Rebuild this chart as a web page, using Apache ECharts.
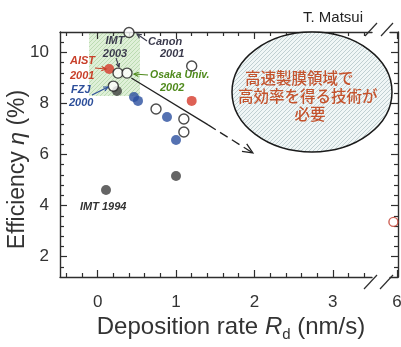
<!DOCTYPE html>
<html><head><meta charset="utf-8">
<script src="https://cdn.jsdelivr.net/npm/echarts@6/dist/echarts.min.js"></script>
<style>html,body{margin:0;padding:0;background:#fff}#c{width:401px;height:347px}</style>
</head><body><div id="c"></div>
<script>
// ---- data ----
const xMajorTicks = [0, 1, 2, 3];
const xMinorTicks = [-0.4, -0.2, 0.2, 0.4, 0.6, 0.8, 1.2, 1.4, 1.6, 1.8, 2.2, 2.4, 2.6, 2.8, 3.2, 3.4];
const xBreakTicks = [6];
const yMajorTicks = [2, 4, 6, 8, 10];
const yMinorTicks = [1.6, 2.4, 2.8, 3.2, 3.6, 4.4, 4.8, 5.2, 5.6, 6.4, 6.8, 7.2, 7.6, 8.4, 8.8, 9.2, 9.6, 10.4];

const openPts = [[0.40, 10.78], [0.26, 9.19], [0.375, 9.19], [0.20, 8.68], [1.20, 9.47], [0.745, 7.78], [1.10, 7.39], [1.10, 6.88]];
const redPts = [[0.147, 9.35], [1.20, 8.10]];
const bluePts = [[0.464, 8.25], [0.515, 8.10], [0.885, 7.47], [1.0, 6.57]];
const grayPts = [[0.247, 8.49], [1.0, 5.16], [0.107, 4.61]];
const redOpenPts = [[5.94, 3.36]];
const trendSolid = [[0.43, 9.0], [1.41, 7.16]];
const trendDashed = [[1.41, 7.16], [1.98, 6.06]];
const greenRegionX = [-0.11, 0.54];
const greenRegionY = [8.29, 10.8];

// ---- helpers ----
const FONT = '"Liberation Sans", Arial, sans-serif';
const AX = '#2e2e2e';
function hatch(bg, fg, s, lw) {
  const c = document.createElement('canvas'); c.width = c.height = s;
  const g = c.getContext('2d'); g.fillStyle = bg; g.fillRect(0, 0, s, s);
  g.strokeStyle = fg; g.lineWidth = lw; g.beginPath();
  g.moveTo(0, s); g.lineTo(s, 0); g.moveTo(-1, 1); g.lineTo(1, -1); g.moveTo(s - 1, s + 1); g.lineTo(s + 1, s - 1);
  g.stroke(); return c;
}
const greenPat = { image: hatch('#dff0d8', '#bcdbb2', 4, 1), repeat: 'repeat' };
const ellPat = { image: hatch('#f0f6f6', '#c0cfd2', 4, 1), repeat: 'repeat' };

function xAx(grid, pos, min, max, ticks, len, line, labels) {
  return {
    type: 'value', gridIndex: grid, position: pos, min: min, max: max, z: 1,
    axisLine: { show: line, onZero: false, lineStyle: { color: AX, width: 1.4 } },
    axisTick: { show: true, inside: true, length: len, customValues: ticks, lineStyle: { color: AX, width: 1.2 } },
    axisLabel: labels ? { show: true, customValues: labels, fontSize: 17, color: '#333', margin: 17, fontFamily: FONT } : { show: false },
    splitLine: { show: false }
  };
}
function yAx(grid, pos, ticks, len, line, labels) {
  return {
    type: 'value', gridIndex: grid, position: pos, min: 1.2, max: 10.8, z: 1,
    axisLine: { show: line, onZero: false, lineStyle: { color: AX, width: 1.4 } },
    axisTick: { show: true, inside: true, length: len, customValues: ticks, lineStyle: { color: AX, width: 1.2 } },
    axisLabel: labels ? { show: true, customValues: labels, fontSize: 17, color: '#333', margin: 11, fontFamily: FONT } : { show: false },
    splitLine: { show: false }
  };
}
function txt(t, x, y, color, align, size, style) {
  return { type: 'text', x: x, y: y, z: 30, silent: true,
    style: { text: t, fill: color, font: (style || 'italic bold') + ' ' + (size || 11) + 'px ' + FONT,
      align: align || 'left', verticalAlign: 'middle', textAlign: align || 'left', textVerticalAlign: 'middle' } };
}
function cjk(t, x, y, align) {
  return { type: 'text', x: x, y: y, z: 30, silent: true,
    style: { text: t, fill: '#c4532d', font: '500 15.5px "Noto Sans CJK JP", sans-serif',
      align: align || 'left', verticalAlign: 'middle', textAlign: align || 'left', textVerticalAlign: 'middle' } };
}
function arrow(x1, y1, x2, y2, color, head, w) {
  head = head || 5; w = w || 1.1;
  const a = Math.atan2(y2 - y1, x2 - x1);
  const h1 = [x2 - head * Math.cos(a - 0.45), y2 - head * Math.sin(a - 0.45)];
  const h2 = [x2 - head * Math.cos(a + 0.45), y2 - head * Math.sin(a + 0.45)];
  return [
    { type: 'line', z: 30, silent: true, shape: { x1: x1, y1: y1, x2: x2, y2: y2 }, style: { stroke: color, lineWidth: w } },
    { type: 'polyline', z: 30, silent: true, shape: { points: [h1, [x2, y2], h2] }, style: { stroke: color, lineWidth: w, fill: null } }
  ];
}
function sl(x1, y1, x2, y2) {
  return { type: 'line', z: 30, silent: true, shape: { x1: x1, y1: y1, x2: x2, y2: y2 }, style: { stroke: AX, lineWidth: 1.2 } };
}

const chart = echarts.init(document.getElementById('c'), null, { renderer: 'canvas' });
const C_DARK = '#3a3a4c', C_RED = '#c8402a', C_BLUE = '#2d4f9a', C_GREEN = '#4f8a1c';

chart.setOption({
  animation: false,
  backgroundColor: '#fff',
  grid: [
    { left: 60, right: 29, top: 32, bottom: 70, outerBoundsMode: 'none', containLabel: false },
    { left: 390, right: 3, top: 32, bottom: 70, outerBoundsMode: 'none', containLabel: false }
  ],
  xAxis: [
    Object.assign(xAx(0, 'bottom', -0.48, 3.5, xMajorTicks, 7, true, xMajorTicks), {
      name: 'Deposition rate {i|R}{s|d} (nm/s)', nameLocation: 'middle', nameGap: 36, nameMoveOverlap: false,
      nameTextStyle: { fontSize: 24, color: '#333', fontFamily: FONT, padding: [0, 0, 0, 30],
        rich: { i: { fontSize: 24, fontStyle: 'italic', color: '#333', fontFamily: FONT },
                s: { fontSize: 15, color: '#333', fontFamily: FONT, verticalAlign: 'bottom', padding: [14, 0, 0, 0] } } }
    }),
    xAx(0, 'bottom', -0.48, 3.5, xMinorTicks, 4, false, null),
    xAx(0, 'top', -0.48, 3.5, xMajorTicks, 7, true, null),
    xAx(0, 'top', -0.48, 3.5, xMinorTicks, 4, false, null),
    xAx(1, 'bottom', 5.88, 6.02, xBreakTicks, 7, true, xBreakTicks),
    xAx(1, 'top', 5.88, 6.02, xBreakTicks, 7, true, null)
  ],
  yAxis: [
    Object.assign(yAx(0, 'left', yMajorTicks, 7, true, yMajorTicks), {
      name: 'Efficiency {i|η} (%)', nameLocation: 'middle', nameGap: 31, nameMoveOverlap: false,
      nameTextStyle: { fontSize: 23, color: '#333', fontFamily: FONT, padding: [0, 30, 0, 0],
        rich: { i: { fontSize: 23, fontStyle: 'italic', color: '#333', fontFamily: FONT } } }
    }),
    yAx(0, 'left', yMinorTicks, 4, false, null),
    yAx(1, 'right', yMajorTicks, 7, true, null),
    yAx(1, 'right', yMinorTicks, 4, false, null)
  ],
  series: [
    { type: 'line', xAxisIndex: 0, yAxisIndex: 0, data: trendSolid, symbol: 'none', z: 2,
      lineStyle: { color: '#222', width: 1.3 },
      markArea: { silent: true, z: 0, label: { show: false }, itemStyle: { color: greenPat },
        data: [[{ coord: [greenRegionX[0], greenRegionY[0]] }, { coord: [greenRegionX[1], greenRegionY[1]] }]] } },
    { type: 'line', xAxisIndex: 0, yAxisIndex: 0, data: trendDashed, symbol: 'none', z: 2,
      lineStyle: { color: '#222', width: 1.3, type: [9, 5] } },
    { type: 'scatter', xAxisIndex: 0, yAxisIndex: 0, data: grayPts, symbolSize: 10, z: 3, clip: false,
      itemStyle: { color: '#3e3e3e' } },
    { type: 'scatter', xAxisIndex: 0, yAxisIndex: 0, data: bluePts, symbolSize: 10, z: 3, clip: false,
      itemStyle: { color: '#2a4f9f' } },
    { type: 'scatter', xAxisIndex: 0, yAxisIndex: 0, data: redPts, symbolSize: 10, z: 3, clip: false,
      itemStyle: { color: '#d6392b' } },
    { type: 'scatter', xAxisIndex: 0, yAxisIndex: 0, data: openPts, symbolSize: 10, z: 4, clip: false,
      itemStyle: { color: '#fff', borderColor: '#1e1e1e', borderWidth: 1.4 } },
    { type: 'scatter', xAxisIndex: 4, yAxisIndex: 2, data: redOpenPts, symbolSize: 9, z: 4, clip: false,
      itemStyle: { color: '#fff', borderColor: '#c0392b', borderWidth: 1.4 } }
  ]
});

// trend arrowhead from data positions
const pA = chart.convertToPixel({ gridIndex: 0 }, trendDashed[0]);
const pB = chart.convertToPixel({ gridIndex: 0 }, trendDashed[1]);
const ang = Math.atan2(pB[1] - pA[1], pB[0] - pA[0]);
const hl = 11;
const head = { type: 'polyline', z: 30, silent: true,
  shape: { points: [[pB[0] - hl * Math.cos(ang - 0.42), pB[1] - hl * Math.sin(ang - 0.42)], pB,
                    [pB[0] - hl * Math.cos(ang + 0.42), pB[1] - hl * Math.sin(ang + 0.42)]] },
  style: { stroke: '#222', lineWidth: 1.3, fill: null } };

const g = [
  { type: 'ellipse', z: 5, silent: true, shape: { cx: 312, cy: 92, rx: 80, ry: 60 },
    style: { fill: ellPat, stroke: '#1a1a1a', lineWidth: 1.5 } },
  cjk('高速製膜領域で', 245, 78),
  cjk('高効率を得る技術が', 238, 96),
  cjk('必要', 310, 114, 'center'),
  txt('T. Matsui', 333, 18, '#222', 'center', 15, 'normal'),
  txt('IMT', 115, 41, C_DARK, 'center'),
  txt('2003', 115, 54, C_DARK, 'center'),
  txt('Canon', 148, 42, C_DARK, 'left'),
  txt('2001', 160, 54, C_DARK, 'left'),
  txt('AIST', 70, 61, C_RED, 'left'),
  txt('2001', 70, 76, C_RED, 'left'),
  txt('Osaka Univ.', 150, 75, C_GREEN, 'left', 10.5),
  txt('2002', 160, 88, C_GREEN, 'left', 11),
  txt('FZJ', 71, 90, C_BLUE, 'left'),
  txt('2000', 69, 103, C_BLUE, 'left'),
  txt('IMT 1994', 80, 207, '#333', 'left'),
  head,
  sl(365, 36, 377, 23), sl(381, 36, 393, 23),
  sl(364, 289, 377, 275), sl(380, 289, 393, 275)
].concat(
  arrow(116, 58, 119, 67, C_DARK, 4),
  arrow(147, 41, 137, 34, C_DARK, 5),
  arrow(95, 68, 106, 69, C_RED, 5),
  arrow(148, 75, 134, 74, C_GREEN, 5),
  arrow(92, 95, 108, 87, C_BLUE, 5)
);
chart.setOption({ graphic: { elements: g } });
</script>
</body></html>
